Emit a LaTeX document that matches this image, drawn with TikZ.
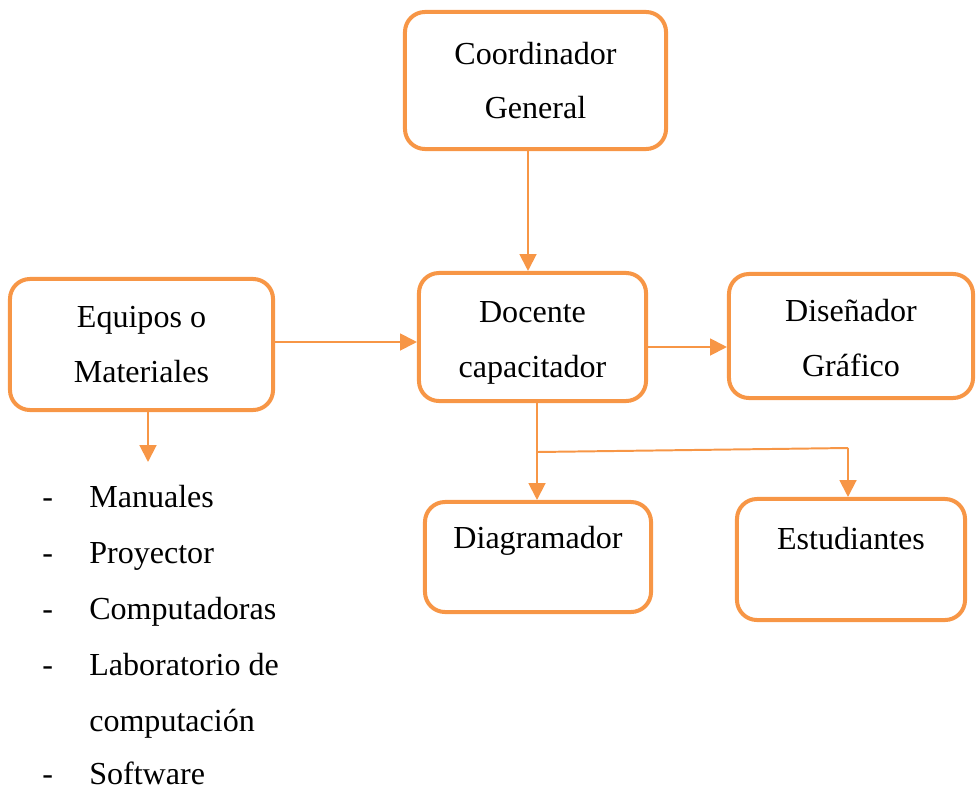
\documentclass[tikz,border=0pt]{standalone}
\usepackage{fontspec}
\setmainfont{Liberation Serif}
\usepackage{tikz}
\usetikzlibrary{arrows.meta}

\definecolor{naranja}{RGB}{247,150,70}

\begin{document}
\begin{tikzpicture}[x=0.025cm,y=-0.025cm,
	caja/.style={draw=naranja, line width=2.85pt, rounded corners=0.5cm, align=center, inner sep=0pt,
		font=\fontsize{22.8}{39}\selectfont},
	flecha/.style={draw=naranja, line width=1.4pt, arrows={-Triangle[length=0.42cm,width=0.42cm]}},
	linea/.style={draw=naranja, line width=1.4pt},
	item/.style={anchor=base west, inner sep=0pt, font=\fontsize{22.8}{39}\selectfont}]

	\useasboundingbox (0,0) rectangle (977,789);

	% cajas
	\node[caja, minimum width=6.525cm, minimum height=3.425cm] (cg) at (535.5,80.5) {Coordinador\\General};
	\node[caja, minimum width=6.575cm, minimum height=3.275cm] (eq) at (141.5,344.5) {Equipos o\\Materiales};
	\node[caja, minimum width=5.675cm, minimum height=3.2cm] (dc) at (532.5,337) {\rule{0pt}{0.8cm}Docente\\capacitador};
	\node[caja, minimum width=6.1cm, minimum height=3.1cm] (dg) at (851,336) {\rule{0pt}{0.65cm}Diseñador\\Gráfico};
	\node[caja, minimum width=5.65cm, minimum height=2.75cm, text height=0.6cm, text depth=1.025cm] (dm) at (538,557) {Diagramador};
	\node[caja, minimum width=5.7cm, minimum height=3.025cm, text height=0.6cm, text depth=1.1cm] (es) at (851,559.5) {Estudiantes};

	% conectores
	\draw[flecha] (cg.south -| 528,0) -- (dc.north -| 528,0);
	\draw[flecha] (eq.east |- 0,342) -- (dc.west |- 0,342);
	\draw[flecha] (dc.east |- 0,347) -- (dg.west |- 0,347);
	\draw[flecha] (dc.south -| 537,0) -- (dm.north -| 537,0);
	\coordinate (rama) at (537,452);
	\coordinate (codo) at (848,448);
	\draw[linea] (rama) -- (codo);
	\draw[flecha] (codo) -- (es.north -| codo);
	\coordinate (lista) at (148,462);
	\draw[flecha] (eq.south -| lista) -- (lista);

	% lista de materiales
	\node[item] (g1) at (42,507) {-};
	\node[item] (m1) at (89,507) {Manuales};
	\node[item] (g2) at (42,563) {-};
	\node[item] (m2) at (89,563) {Proyector};
	\node[item] (g3) at (42,619) {-};
	\node[item] (m3) at (89,619) {Computadoras};
	\node[item] (g4) at (42,675) {-};
	\node[item] (m4) at (89,675) {Laboratorio de};
	\node[item] (m5) at (89,731) {computación};
	\node[item] (g6) at (42,784) {-};
	\node[item] (m6) at (89,784) {Software};

\end{tikzpicture}
\end{document}
